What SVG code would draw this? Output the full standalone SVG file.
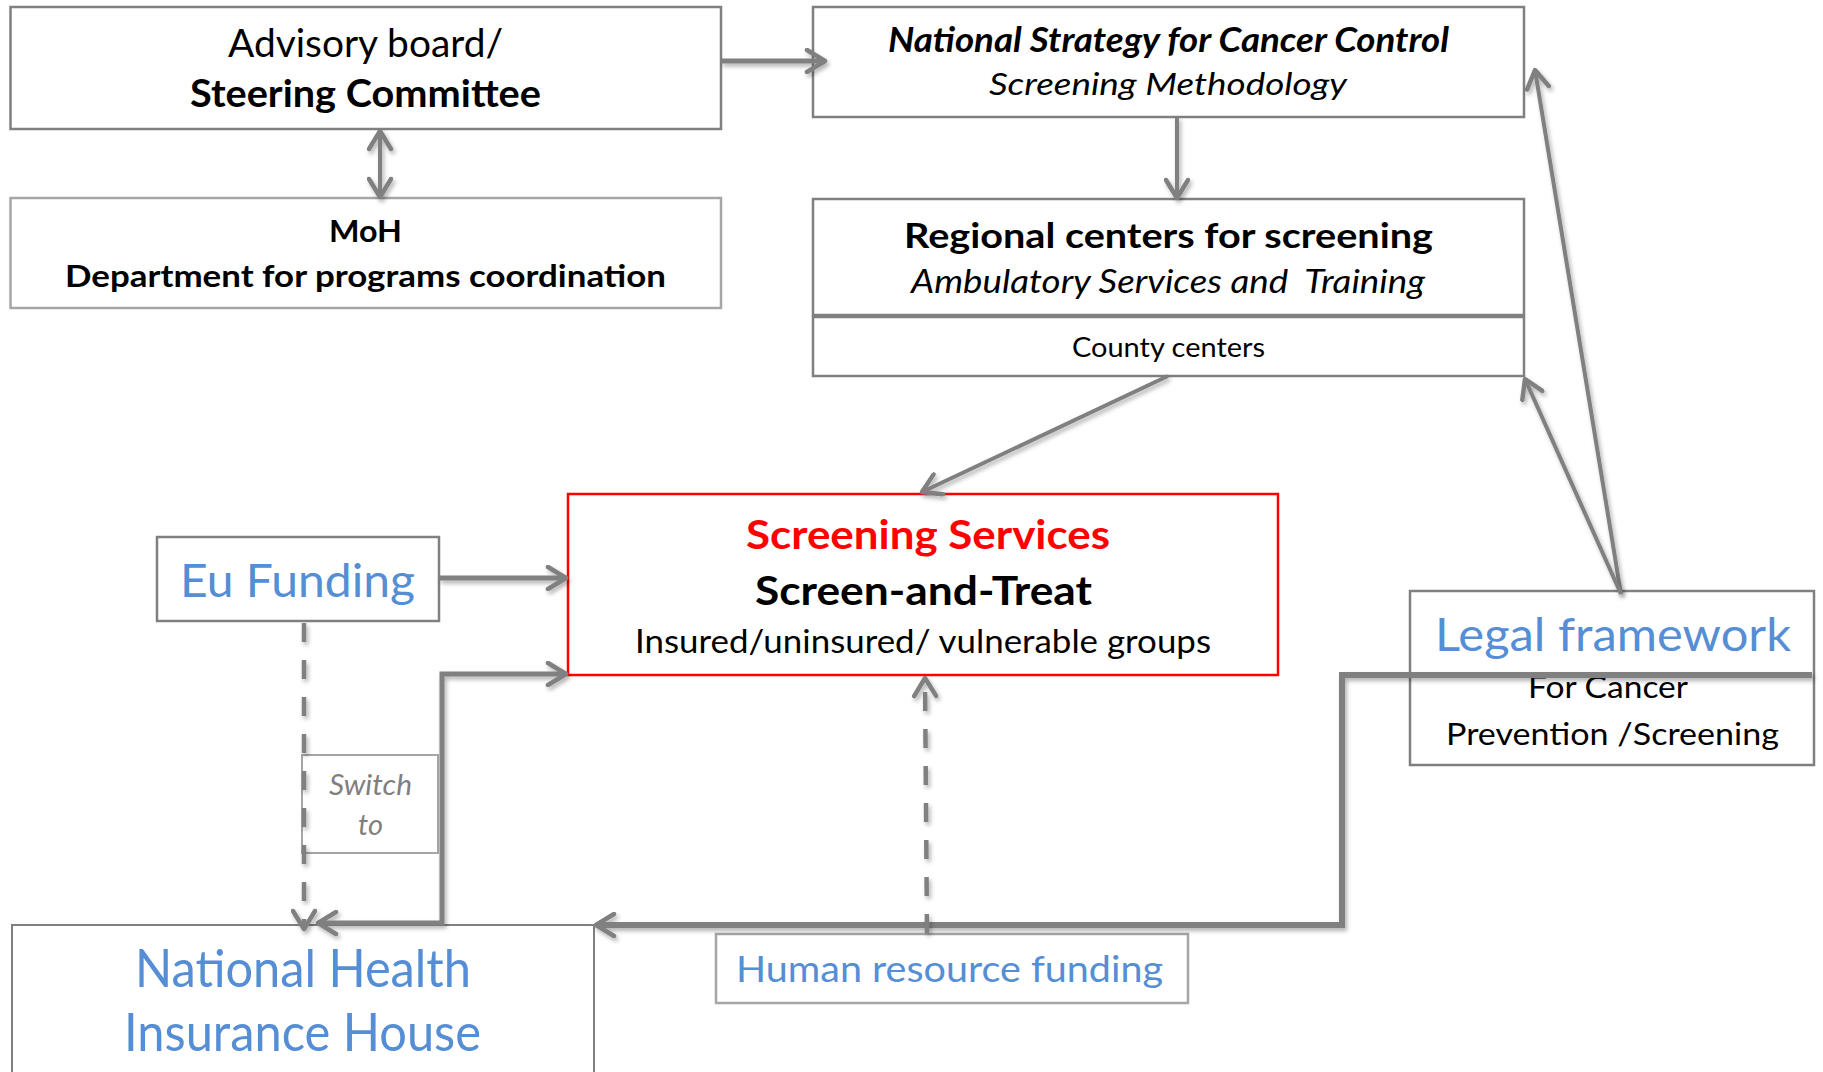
<svg xmlns="http://www.w3.org/2000/svg" width="1823" height="1072" viewBox="0 0 1823 1072">
<defs>
<style>
text{font-family:Lato,'Open Sans','Liberation Sans',sans-serif;text-anchor:middle;fill:#000}
.box{fill:#fff;stroke:#808080;stroke-width:2.5}
.lbox{fill:#fff;stroke:#a6a6a6;stroke-width:2.5}
.red{fill:#fff;stroke:#ff0000;stroke-width:2.5}
.b{font-weight:700}
.i{font-style:italic}
.blue{fill:#558ed5}
.grey{fill:#7f7f7f}
.conn{fill:none;stroke:#808080;stroke-width:5;filter:url(#sh)}
.thin{stroke-width:4}
.dash{stroke-dasharray:19 18;stroke-width:4.5}
</style>
<marker id="arr" viewBox="0 0 24 26" refX="21" refY="13" markerWidth="24" markerHeight="26" markerUnits="userSpaceOnUse" orient="auto-start-reverse">
<path d="M3,2 L21,13 L3,24" fill="none" stroke="#808080" stroke-width="4.5" stroke-linecap="round" stroke-linejoin="round"/>
</marker>
<filter id="sh" filterUnits="userSpaceOnUse" x="0" y="0" width="1823" height="1072">
<feDropShadow dx="2" dy="3" stdDeviation="2" flood-color="#000" flood-opacity="0.3"/>
</filter>
</defs>
<rect width="1823" height="1072" fill="#fff"/>

<g id="advisory">
<rect class="box" x="10.5" y="7" width="710.5" height="122"/>
<text x="365.5" y="57" font-size="39" textLength="275" lengthAdjust="spacingAndGlyphs">Advisory board/</text>
<text class="b" x="365.5" y="107" font-size="38" textLength="351" lengthAdjust="spacingAndGlyphs">Steering Committee</text>
</g>

<g id="moh">
<rect class="lbox" x="10.5" y="198" width="710.5" height="110"/>
<text class="b" x="365.5" y="242" font-size="31" textLength="73" lengthAdjust="spacingAndGlyphs">MoH</text>
<text class="b" x="365.5" y="287" font-size="31" textLength="601" lengthAdjust="spacingAndGlyphs">Department for programs coordination</text>
</g>

<g id="nscc">
<rect class="box" x="813" y="7" width="711" height="110"/>
<text class="b i" x="1168.5" y="52" font-size="33.5" textLength="561" lengthAdjust="spacingAndGlyphs">National Strategy for Cancer Control</text>
<text class="i" x="1168" y="95" font-size="30" textLength="358" lengthAdjust="spacingAndGlyphs">Screening Methodology</text>
</g>

<g id="regional">
<rect class="box" x="813" y="199" width="711" height="116"/>
<text class="b" x="1168.5" y="248" font-size="35" textLength="529" lengthAdjust="spacingAndGlyphs">Regional centers for screening</text>
<text class="i" x="1168" y="293" font-size="32" textLength="514" lengthAdjust="spacingAndGlyphs" style="white-space:pre" xml:space="preserve">Ambulatory Services and  Training</text>
</g>

<g id="county">
<rect class="box" x="813" y="317" width="711" height="59"/>
<text x="1168.5" y="357" font-size="27" textLength="193" lengthAdjust="spacingAndGlyphs">County centers</text>
</g>

<g id="screening">
<rect class="red" x="568" y="494" width="710" height="181"/>
<text class="b" x="928" y="549" font-size="41" textLength="364" lengthAdjust="spacingAndGlyphs" style="fill:#ff0000">Screening Services</text>
<text class="b" x="923.5" y="605" font-size="41" textLength="337" lengthAdjust="spacingAndGlyphs">Screen-and-Treat</text>
<text x="923" y="653" font-size="32" textLength="576" lengthAdjust="spacingAndGlyphs">Insured/uninsured/ vulnerable groups</text>
</g>

<g id="eu-funding">
<rect class="box" x="157" y="537" width="282" height="84"/>
<text class="blue" x="297.5" y="597" font-size="47" textLength="235" lengthAdjust="spacingAndGlyphs">Eu Funding</text>
</g>

<g id="switch-to">
<rect class="lbox" x="302" y="755" width="136" height="98" style="stroke-width:2"/>
<text class="i grey" x="370.5" y="795" font-size="28" textLength="83" lengthAdjust="spacingAndGlyphs">Switch</text>
<text class="i grey" x="370.5" y="835" font-size="28" textLength="25" lengthAdjust="spacingAndGlyphs">to</text>
</g>

<g id="legal">
<rect class="box" x="1410" y="591" width="404" height="174"/>
<text class="blue" x="1613" y="651" font-size="47" textLength="356" lengthAdjust="spacingAndGlyphs">Legal framework</text>
<text x="1608" y="698" font-size="31" textLength="160" lengthAdjust="spacingAndGlyphs">For Cancer</text>
<text x="1612.5" y="745" font-size="31" textLength="333" lengthAdjust="spacingAndGlyphs">Prevention /Screening</text>
</g>

<g id="nhih">
<rect class="box" x="12" y="925" width="582" height="170" style="stroke-width:2"/>
<text class="blue" x="303" y="987" font-size="52" textLength="336" lengthAdjust="spacingAndGlyphs">National Health</text>
<text class="blue" x="302.5" y="1051" font-size="52" textLength="357" lengthAdjust="spacingAndGlyphs">Insurance House</text>
</g>

<g id="hr-funding">
<rect class="lbox" x="716" y="934" width="472" height="69"/>
<text class="blue" x="949.5" y="982" font-size="37" textLength="427" lengthAdjust="spacingAndGlyphs">Human resource funding</text>
</g>

<g id="connectors">
<line class="conn" x1="721" y1="61" x2="825" y2="61" marker-end="url(#arr)"/>
<line class="conn thin" x1="380" y1="131" x2="380" y2="197" marker-start="url(#arr)" marker-end="url(#arr)"/>
<line class="conn thin" x1="1177" y1="117" x2="1177" y2="198" marker-end="url(#arr)"/>
<line class="conn thin" x1="1168" y1="376" x2="922" y2="492" marker-end="url(#arr)"/>
<line class="conn thin" x1="1621" y1="594" x2="1535" y2="70" marker-end="url(#arr)"/>
<line class="conn thin" x1="1621" y1="594" x2="1525" y2="379" marker-end="url(#arr)"/>
<line class="conn" x1="439" y1="578" x2="566" y2="578" marker-end="url(#arr)"/>
<polyline class="conn" points="318,923 442,923 442,674 566,674" marker-start="url(#arr)" marker-end="url(#arr)"/>
<line class="conn dash" x1="304" y1="623" x2="304" y2="929" marker-end="url(#arr)"/>
<polyline class="conn" style="stroke-width:6" points="1812,675 1342,675 1342,925 596,925" marker-end="url(#arr)"/>
<line class="conn dash" x1="927" y1="933" x2="925" y2="678" marker-end="url(#arr)"/>
</g>
</svg>
